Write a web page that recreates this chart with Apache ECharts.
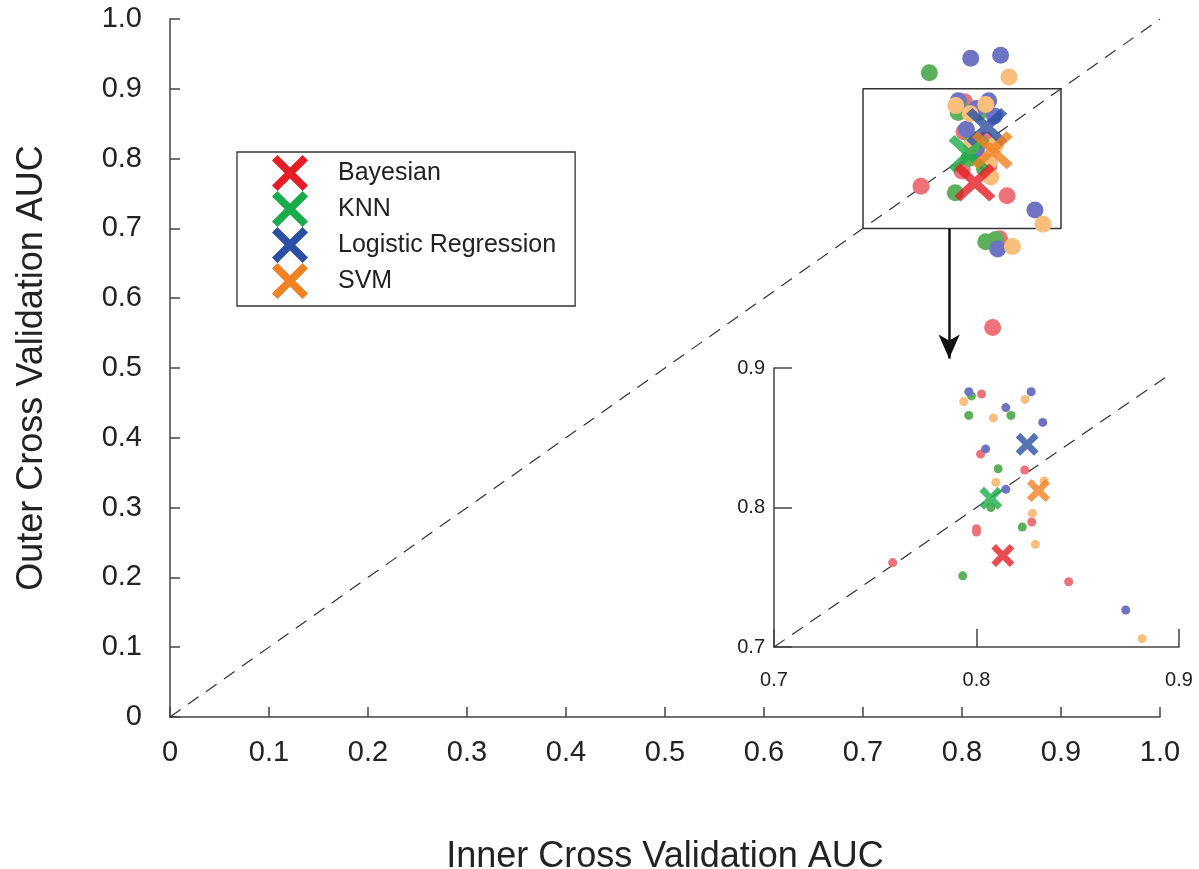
<!DOCTYPE html>
<html>
<head>
<meta charset="utf-8">
<script src="https://cdn.jsdelivr.net/npm/echarts/dist/echarts.min.js"></script>
<style>
html,body{margin:0;padding:0;background:#fff;}
#chart{width:1199px;height:869px;}
</style>
</head>
<body>
<div id="chart"></div>
<script>
// ---- data ----
var classifiers = ['Bayesian', 'KNN', 'Logistic Regression', 'SVM'];

var bayesX = [0.8025, 0.802, 0.8238, 0.800, 0.800, 0.8273, 0.7586, 0.8455, 0.831, 0.838];
var bayesY = [0.8814, 0.8383, 0.8269, 0.7848, 0.7824, 0.7896, 0.7605, 0.7468, 0.558, 0.685];
var knnX = [0.7975, 0.7962, 0.817, 0.8107, 0.8071, 0.8226, 0.7932, 0.767, 0.824, 0.834];
var knnY = [0.880, 0.866, 0.866, 0.8278, 0.800, 0.786, 0.751, 0.923, 0.681, 0.684];
var lrX = [0.7962, 0.827, 0.8145, 0.8327, 0.8045, 0.8145, 0.8737, 0.8088, 0.839, 0.836];
var lrY = [0.883, 0.883, 0.8716, 0.861, 0.842, 0.813, 0.7265, 0.9437, 0.948, 0.6705];
var svmX = [0.7937, 0.824, 0.8083, 0.8096, 0.8276, 0.8291, 0.8818, 0.8475, 0.851, 0.8334];
var svmY = [0.8759, 0.8775, 0.8642, 0.818, 0.7958, 0.7736, 0.706, 0.917, 0.674, 0.819];

var meanX = [0.813, 0.8071, 0.825, 0.8306];
var meanY = [0.7656, 0.8066, 0.8453, 0.8121];

var mainTickLabels = ['0', '0.1', '0.2', '0.3', '0.4', '0.5', '0.6', '0.7', '0.8', '0.9', '1.0'];
var insetTickLabels = ['0.7', '0.8', '0.9'];

// zoom box (data units), inset diagonal end, arrow
var zoomBox = [0.7, 0.9];
var insetDiagEnd = 0.893;
var arrowX = 0.787;
var arrowY = [0.7, 0.5136];

// ---- styling ----
var dotColors = ['#ee7378', '#5cb05c', '#6e73c3', '#fabe7d'];
var crossColors = ['#e51e25', '#1aab4b', '#2b4fa3', '#f28121'];
var FONT = '"Liberation Sans", Arial, Helvetica, sans-serif';
var TXT = '#222';
var AX = '#444';
var XPATH = 'path://M0,15L15,0L50,35L85,0L100,15L65,50L100,85L85,100L50,65L15,100L0,85L35,50Z';
var XPATH_BOLD = 'path://M0,20L20,0L50,30L80,0L100,20L70,50L100,80L80,100L50,70L20,100L0,80L30,50Z';

var xs = [bayesX, knnX, lrX, svmX];
var ys = [bayesY, knnY, lrY, svmY];

function zip(a, b) { return a.map(function (v, i) { return [v, b[i]]; }); }

var series = [];
// main diagonal
series.push({
  type: 'line', xAxisIndex: 0, yAxisIndex: 0, data: [[0, 0], [1, 1]],
  symbol: 'none', silent: true, z: 1,
  lineStyle: { color: '#333', width: 1.2, type: [13, 9] }
});
// inset diagonal
series.push({
  type: 'line', xAxisIndex: 1, yAxisIndex: 1, data: [[0.7, 0.7], [insetDiagEnd, insetDiagEnd]],
  symbol: 'none', silent: true, z: 1,
  lineStyle: { color: '#333', width: 1.2, type: [13, 9] }
});
// zoom box + arrow
series.push({
  type: 'line', xAxisIndex: 0, yAxisIndex: 0,
  data: [[zoomBox[0], zoomBox[0]], [zoomBox[1], zoomBox[0]], [zoomBox[1], zoomBox[1]], [zoomBox[0], zoomBox[1]], [zoomBox[0], zoomBox[0]]],
  symbol: 'none', silent: true, z: 1,
  lineStyle: { color: '#333', width: 1.5, type: 'solid' },
  markLine: {
    silent: true, symbol: ['none', 'arrow'], symbolSize: [16, 24],
    label: { show: false },
    lineStyle: { color: '#111', width: 2.5, type: 'solid' },
    data: [[{ coord: [arrowX, arrowY[0]] }, { coord: [arrowX, arrowY[1]] }]]
  }
});

classifiers.forEach(function (name, i) {
  var pts = zip(xs[i], ys[i]);
  series.push({
    name: name, type: 'scatter', xAxisIndex: 0, yAxisIndex: 0, data: pts,
    symbol: 'circle', symbolSize: 17, z: 2,
    itemStyle: { color: dotColors[i], opacity: 1 }
  });
  series.push({
    name: name, type: 'scatter', xAxisIndex: 1, yAxisIndex: 1, data: pts, clip: true,
    symbol: 'circle', symbolSize: 9, z: 2,
    itemStyle: { color: dotColors[i], opacity: 1 }
  });
});
var crossZ = [8, 5, 6, 7];
classifiers.forEach(function (name, i) {
  series.push({
    name: name, type: 'scatter', xAxisIndex: 0, yAxisIndex: 0, data: [[meanX[i], meanY[i]]],
    symbol: XPATH, symbolSize: [41, 38], z: crossZ[i],
    itemStyle: { color: crossColors[i] }
  });
  series.push({
    name: name, type: 'scatter', xAxisIndex: 1, yAxisIndex: 1, data: [[meanX[i], meanY[i]]],
    symbol: XPATH_BOLD, symbolSize: 23, z: crossZ[i],
    itemStyle: { color: crossColors[i] }
  });
});

function axisCommon(tickLen) {
  return {
    axisLine: { show: true, onZero: false, lineStyle: { color: AX, width: 1.5 } },
    axisTick: { show: true, inside: true, length: tickLen, lineStyle: { color: AX, width: 1.5 } },
    splitLine: { show: false }
  };
}

var mainX = Object.assign({
  type: 'value', gridIndex: 0, min: 0, max: 1, interval: 0.1,
  name: 'Inner Cross Validation AUC', nameLocation: 'middle', nameGap: 122,
  nameTextStyle: { fontSize: 36, color: TXT, fontFamily: FONT },
  axisLabel: {
    fontSize: 29, color: TXT, fontFamily: FONT, margin: 21,
    formatter: function (v) { return mainTickLabels[Math.round(v * 10)]; }
  }
}, axisCommon(10));
var mainY = Object.assign({
  type: 'value', gridIndex: 0, min: 0, max: 1, interval: 0.1,
  name: 'Outer Cross Validation AUC', nameLocation: 'middle', nameGap: 120,
  nameTextStyle: { fontSize: 36, color: TXT, fontFamily: FONT },
  axisLabel: {
    fontSize: 29, color: TXT, fontFamily: FONT, margin: 28, padding: [10, 0, 0, 0],
    formatter: function (v) { return mainTickLabels[Math.round(v * 10)]; }
  }
}, axisCommon(10));
var insetX = Object.assign({
  type: 'value', gridIndex: 1, min: 0.7, max: 0.9, interval: 0.1,
  axisLabel: {
    fontSize: 20, color: TXT, fontFamily: FONT, margin: 23,
    formatter: function (v) { return insetTickLabels[Math.round((v - 0.7) * 10)]; }
  }
}, axisCommon(18));
var insetY = Object.assign({
  type: 'value', gridIndex: 1, min: 0.7, max: 0.9, interval: 0.1,
  axisLabel: {
    fontSize: 20, color: TXT, fontFamily: FONT, margin: 9, padding: [4, 0, 0, 0],
    formatter: function (v) { return insetTickLabels[Math.round((v - 0.7) * 10)]; }
  }
}, axisCommon(18));

var option = {
  backgroundColor: '#ffffff',
  animation: false,
  textStyle: { fontFamily: FONT },
  grid: [
    { left: 170, top: 19, width: 990, height: 698, containLabel: false, outerBoundsMode: 'none' },
    { left: 774, top: 368, width: 405, height: 279, containLabel: false, outerBoundsMode: 'none' }
  ],
  xAxis: [mainX, insetX],
  yAxis: [mainY, insetY],
  legend: {
    orient: 'vertical', left: 237, top: 152,
    itemWidth: 40, itemHeight: 36, itemGap: 0,
    padding: [3, 19, 7, 35],
    borderColor: '#333', borderWidth: 1.3,
    selectedMode: false,
    textStyle: { fontSize: 25, color: TXT, fontFamily: FONT, padding: [6, 0, 0, 23] },
    data: classifiers.map(function (n, i) {
      return { name: n, icon: XPATH, itemStyle: { color: crossColors[i] } };
    })
  },
  series: series
};

var chart = echarts.init(document.getElementById('chart'), null, { renderer: 'canvas' });
chart.setOption(option);
</script>
</body>
</html>
